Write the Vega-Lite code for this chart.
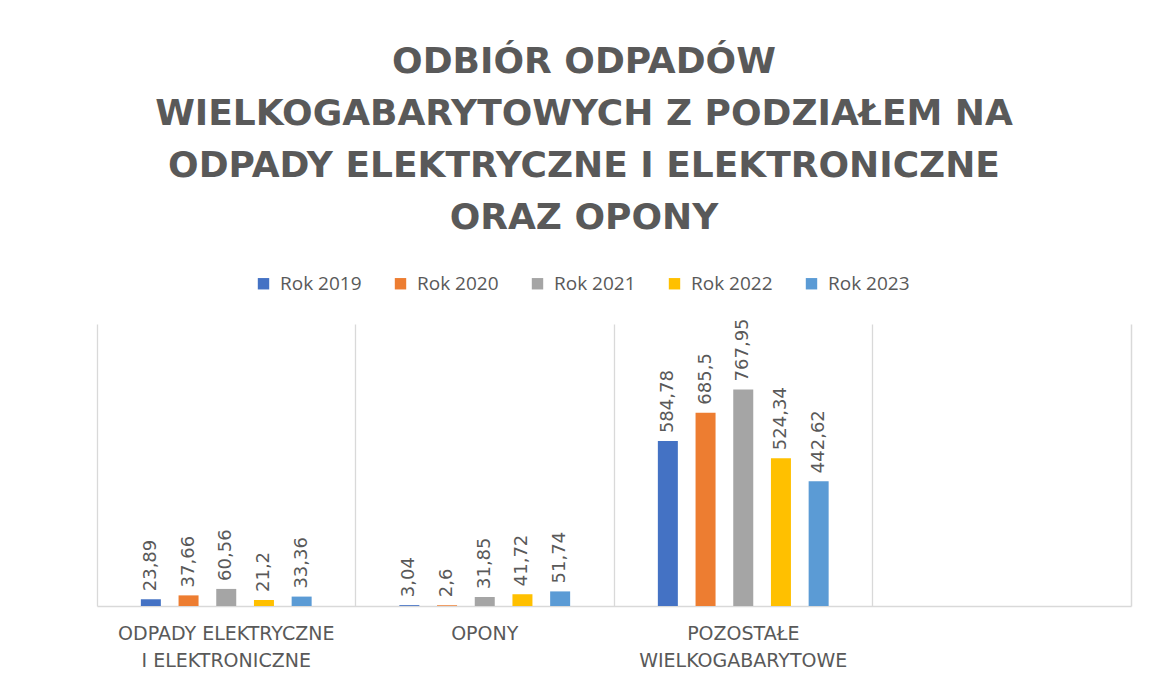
{
  "$schema": "https://vega.github.io/schema/vega-lite/v6.json",
  "width": 1034,
  "height": 282,
  "autosize": {"type": "none"},
  "padding": {"left": 97, "top": 324, "right": 20, "bottom": 74},
  "background": "white",
  "config": {
    "locale": {"number": {"decimal": ",", "thousands": " ", "grouping": [3], "currency": ["", " zł"]}},
    "view": {"stroke": null}
  },
  "title": {
    "text": ["ODBIÓR ODPADÓW", "WIELKOGABARYTOWYCH Z PODZIAŁEM NA", "ODPADY ELEKTRYCZNE I ELEKTRONICZNE", "ORAZ OPONY"],
    "font": "DejaVu Sans",
    "fontSize": 36,
    "fontWeight": "bold",
    "color": "#595959",
    "lineHeight": 52,
    "anchor": "middle",
    "offset": 37,
    "dx": -30
  },
  "data": {
    "values": [
      {"kategoria": "Odpady elektryczne i elektroniczne", "rok": "Rok 2019", "wartosc": 23.89},
      {"kategoria": "Odpady elektryczne i elektroniczne", "rok": "Rok 2020", "wartosc": 37.66},
      {"kategoria": "Odpady elektryczne i elektroniczne", "rok": "Rok 2021", "wartosc": 60.56},
      {"kategoria": "Odpady elektryczne i elektroniczne", "rok": "Rok 2022", "wartosc": 21.2},
      {"kategoria": "Odpady elektryczne i elektroniczne", "rok": "Rok 2023", "wartosc": 33.36},
      {"kategoria": "Opony", "rok": "Rok 2019", "wartosc": 3.04},
      {"kategoria": "Opony", "rok": "Rok 2020", "wartosc": 2.6},
      {"kategoria": "Opony", "rok": "Rok 2021", "wartosc": 31.85},
      {"kategoria": "Opony", "rok": "Rok 2022", "wartosc": 41.72},
      {"kategoria": "Opony", "rok": "Rok 2023", "wartosc": 51.74},
      {"kategoria": "Pozostałe wielkogabarytowe", "rok": "Rok 2019", "wartosc": 584.78},
      {"kategoria": "Pozostałe wielkogabarytowe", "rok": "Rok 2020", "wartosc": 685.5},
      {"kategoria": "Pozostałe wielkogabarytowe", "rok": "Rok 2021", "wartosc": 767.95},
      {"kategoria": "Pozostałe wielkogabarytowe", "rok": "Rok 2022", "wartosc": 524.34},
      {"kategoria": "Pozostałe wielkogabarytowe", "rok": "Rok 2023", "wartosc": 442.62}
    ]
  },
  "encoding": {
    "x": {
      "field": "kategoria",
      "type": "nominal",
      "sort": null,
      "scale": {
        "domain": ["Odpady elektryczne i elektroniczne", "Opony", "Pozostałe wielkogabarytowe", ""],
        "paddingInner": 0,
        "paddingOuter": 0
      },
      "axis": {
        "title": null,
        "labelAngle": 0,
        "labelExpr": "datum.value == 'Odpady elektryczne i elektroniczne' ? ['ODPADY ELEKTRYCZNE', 'I ELEKTRONICZNE'] : datum.value == 'Opony' ? 'OPONY' : datum.value == 'Pozostałe wielkogabarytowe' ? ['POZOSTAŁE', 'WIELKOGABARYTOWE'] : ''",
        "labelFont": "DejaVu Sans",
        "labelFontSize": 19,
        "labelColor": "#595959",
        "labelLineHeight": 27,
        "labelPadding": 18,
        "labelLimit": 0,
        "ticks": false,
        "grid": true,
        "gridColor": "#d9d9d9",
        "gridWidth": 1.3,
        "bandPosition": 0,
        "domainColor": "#d9d9d9",
        "domainWidth": 1.5
      }
    },
    "xOffset": {
      "field": "rok",
      "type": "nominal",
      "scale": {"paddingInner": 0.143, "paddingOuter": 1}
    },
    "y": {
      "field": "wartosc",
      "type": "quantitative",
      "scale": {"domain": [0, 1000]},
      "axis": {
        "orient": "right",
        "title": null,
        "labels": false,
        "ticks": false,
        "grid": false,
        "domainColor": "#d9d9d9",
        "domainWidth": 1.5
      }
    }
  },
  "layer": [
    {
      "mark": {"type": "bar", "width": 20},
      "encoding": {
        "color": {
          "field": "rok",
          "type": "nominal",
          "scale": {
            "domain": ["Rok 2019", "Rok 2020", "Rok 2021", "Rok 2022", "Rok 2023"],
            "range": ["#4472C4", "#ED7D31", "#A5A5A5", "#FFC000", "#5B9BD5"]
          },
          "legend": {
            "title": null,
            "orient": "none",
            "direction": "horizontal",
            "legendX": 157,
            "legendY": -50,
            "symbolType": "square",
            "symbolSize": 130,
            "symbolStrokeWidth": 0,
            "labelFont": "Open Sans",
            "labelFontSize": 19,
            "labelColor": "#595959",
            "labelOffset": 7,
            "columnPadding": 29,
            "labelLimit": 0
          }
        }
      }
    },
    {
      "mark": {
        "type": "text",
        "angle": -90,
        "align": "left",
        "baseline": "middle",
        "dx": 8,
        "font": "DejaVu Sans",
        "fontSize": 18,
        "color": "#595959"
      },
      "encoding": {
        "text": {"field": "wartosc", "type": "quantitative", "format": ".2~f"}
      }
    }
  ]
}
